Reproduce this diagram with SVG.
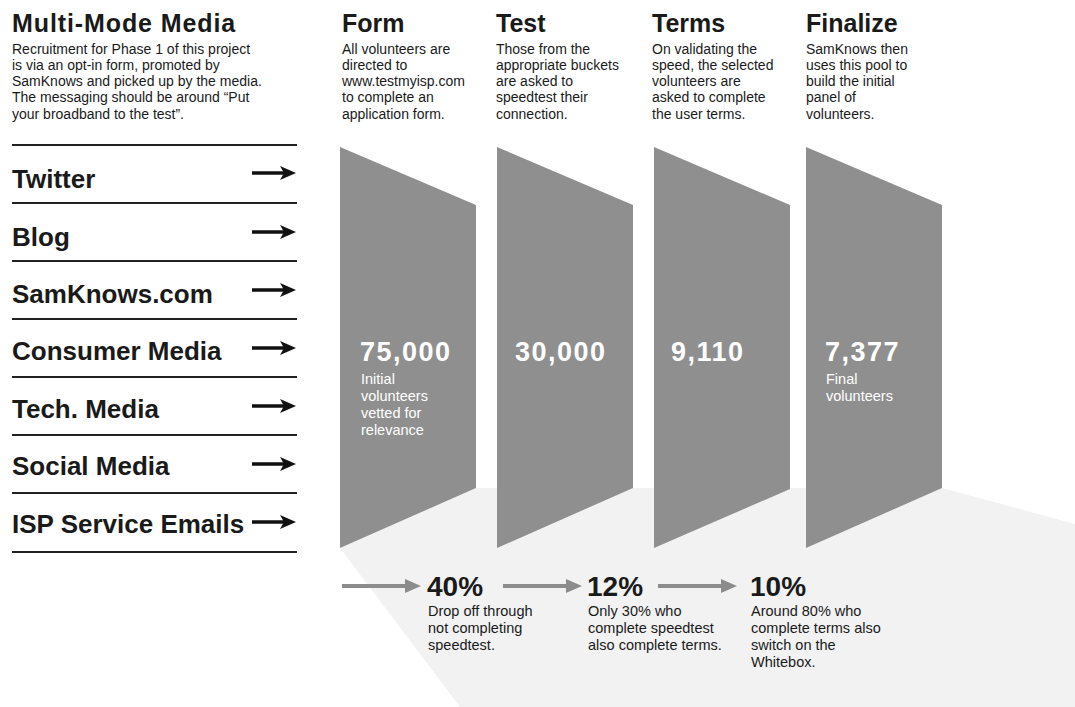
<svg xmlns="http://www.w3.org/2000/svg" width="1075" height="707" viewBox="0 0 1075 707">
<style>
text{font-family:"Liberation Sans",Arial,sans-serif;fill:#1a1a1a}
.h{font-size:25px;font-weight:bold}
.t{letter-spacing:0.9px}
.b{font-size:14px}
.bs{font-size:14.5px}
.lbl{font-size:26px;font-weight:bold}
.num{font-size:27px;font-weight:bold;fill:#ffffff;letter-spacing:1.5px}
.pt{font-size:14.5px;fill:#ffffff}
.pct{font-size:28px;font-weight:bold}
.rule{stroke:#222;stroke-width:2}
.panel{fill:#8f8f8f}
.ka{stroke:#111;stroke-width:3.5;fill:none}
.ga{stroke:#8c8c8c;stroke-width:4;fill:none}
</style>
<defs>
<marker id="kh" markerUnits="userSpaceOnUse" viewBox="0 0 16 14" markerWidth="16" markerHeight="14" refX="4" refY="7" orient="auto">
<path d="M0,0 L16,7 L0,14 L4,7 Z" fill="#111"/>
</marker>
<marker id="gh" markerUnits="userSpaceOnUse" viewBox="0 0 16 14" markerWidth="16" markerHeight="14" refX="2" refY="7" orient="auto">
<path d="M0,0 L16,7 L0,14 Z" fill="#8c8c8c"/>
</marker>
</defs>
<rect width="1075" height="707" fill="#ffffff"/>

<polygon id="shadow" points="340,548 476,488 942,488 1075,524 1075,707 460,707" fill="#f2f2f2"/>

<g id="intro">
<text class="h t" x="12" y="32">Multi-Mode Media</text>
<text class="b" x="12" y="53.5">Recruitment for Phase 1 of this project<tspan x="12" dy="16.3">is via an opt-in form, promoted by</tspan><tspan x="12" dy="16.3">SamKnows and picked up by the media.</tspan><tspan x="12" dy="16.3">The messaging should be around “Put</tspan><tspan x="12" dy="16.3">your broadband to the test”.</tspan></text>
</g>

<g id="col-form">
<text class="h" x="342" y="32">Form</text>
<text class="b" x="342" y="53.5">All volunteers are<tspan x="342" dy="16.3">directed to</tspan><tspan x="342" dy="16.3">www.testmyisp.com</tspan><tspan x="342" dy="16.3">to complete an</tspan><tspan x="342" dy="16.3">application form.</tspan></text>
</g>
<g id="col-test">
<text class="h" x="496" y="32">Test</text>
<text class="b" x="496" y="53.5">Those from the<tspan x="496" dy="16.3">appropriate buckets</tspan><tspan x="496" dy="16.3">are asked to</tspan><tspan x="496" dy="16.3">speedtest their</tspan><tspan x="496" dy="16.3">connection.</tspan></text>
</g>
<g id="col-terms">
<text class="h" x="652" y="32">Terms</text>
<text class="b" x="652" y="53.5">On validating the<tspan x="652" dy="16.3">speed, the selected</tspan><tspan x="652" dy="16.3">volunteers are</tspan><tspan x="652" dy="16.3">asked to complete</tspan><tspan x="652" dy="16.3">the user terms.</tspan></text>
</g>
<g id="col-finalize">
<text class="h" x="806" y="32">Finalize</text>
<text class="b" x="806" y="53.5">SamKnows then<tspan x="806" dy="16.3">uses this pool to</tspan><tspan x="806" dy="16.3">build the initial</tspan><tspan x="806" dy="16.3">panel of</tspan><tspan x="806" dy="16.3">volunteers.</tspan></text>
</g>

<g id="rules">
<line class="rule" x1="12" y1="145" x2="297" y2="145"/>
<line class="rule" x1="12" y1="203" x2="297" y2="203"/>
<line class="rule" x1="12" y1="261" x2="297" y2="261"/>
<line class="rule" x1="12" y1="319" x2="297" y2="319"/>
<line class="rule" x1="12" y1="377" x2="297" y2="377"/>
<line class="rule" x1="12" y1="435" x2="297" y2="435"/>
<line class="rule" x1="12" y1="493" x2="297" y2="493"/>
<line class="rule" x1="12" y1="552" x2="297" y2="552"/>
</g>

<g id="ch-twitter"><text class="lbl" x="12" y="188">Twitter</text></g>
<g id="ch-blog"><text class="lbl" x="12" y="246">Blog</text></g>
<g id="ch-samknows"><text class="lbl" x="12" y="303">SamKnows.com</text></g>
<g id="ch-consumer"><text class="lbl" x="12" y="360">Consumer Media</text></g>
<g id="ch-tech"><text class="lbl" x="12" y="418">Tech. Media</text></g>
<g id="ch-social"><text class="lbl" x="12" y="475">Social Media</text></g>
<g id="ch-isp"><text class="lbl" x="12" y="533">ISP Service Emails</text></g>

<g id="panel-form">
<polygon class="panel" points="340,147 476,205 476,488 340,548"/>
<text class="num" x="360" y="361">75,000</text>
<text class="pt" x="361" y="384">Initial<tspan x="361" dy="17">volunteers</tspan><tspan x="361" dy="17">vetted for</tspan><tspan x="361" dy="17">relevance</tspan></text>
</g>
<g id="panel-test">
<polygon class="panel" points="497,147 633,205 633,488 497,548"/>
<text class="num" x="515" y="361">30,000</text>
</g>
<g id="panel-terms">
<polygon class="panel" points="654,147 790,205 790,489 654,548"/>
<text class="num" x="671" y="361">9,110</text>
</g>
<g id="panel-finalize">
<polygon class="panel" points="806,147 942,205 942,488 806,548"/>
<text class="num" x="825" y="361">7,377</text>
<text class="pt" x="826" y="384">Final<tspan x="826" dy="17">volunteers</tspan></text>
</g>

<g id="stat-40">
<text class="pct" x="427" y="596">40%</text>
<text class="bs" x="428" y="616">Drop off through<tspan x="428" dy="17">not completing</tspan><tspan x="428" dy="17">speedtest.</tspan></text>
</g>
<g id="stat-12">
<text class="pct" x="587" y="596">12%</text>
<text class="bs" x="588" y="616">Only 30% who<tspan x="588" dy="17">complete speedtest</tspan><tspan x="588" dy="17">also complete terms.</tspan></text>
</g>
<g id="stat-10">
<text class="pct" x="750" y="596">10%</text>
<text class="bs" x="751" y="616">Around 80% who<tspan x="751" dy="17">complete terms also</tspan><tspan x="751" dy="17">switch on the</tspan><tspan x="751" dy="17">Whitebox.</tspan></text>
</g>

<g id="connectors">
<line class="ka" x1="252" y1="173" x2="284" y2="173" marker-end="url(#kh)"/>
<line class="ka" x1="252" y1="232" x2="284" y2="232" marker-end="url(#kh)"/>
<line class="ka" x1="252" y1="290" x2="284" y2="290" marker-end="url(#kh)"/>
<line class="ka" x1="252" y1="348" x2="284" y2="348" marker-end="url(#kh)"/>
<line class="ka" x1="252" y1="406" x2="284" y2="406" marker-end="url(#kh)"/>
<line class="ka" x1="252" y1="464" x2="284" y2="464" marker-end="url(#kh)"/>
<line class="ka" x1="252" y1="522" x2="284" y2="522" marker-end="url(#kh)"/>
<line class="ga" x1="342" y1="586" x2="407" y2="586" marker-end="url(#gh)"/>
<line class="ga" x1="503" y1="586" x2="568" y2="586" marker-end="url(#gh)"/>
<line class="ga" x1="658" y1="586" x2="723" y2="586" marker-end="url(#gh)"/>
</g>
</svg>
